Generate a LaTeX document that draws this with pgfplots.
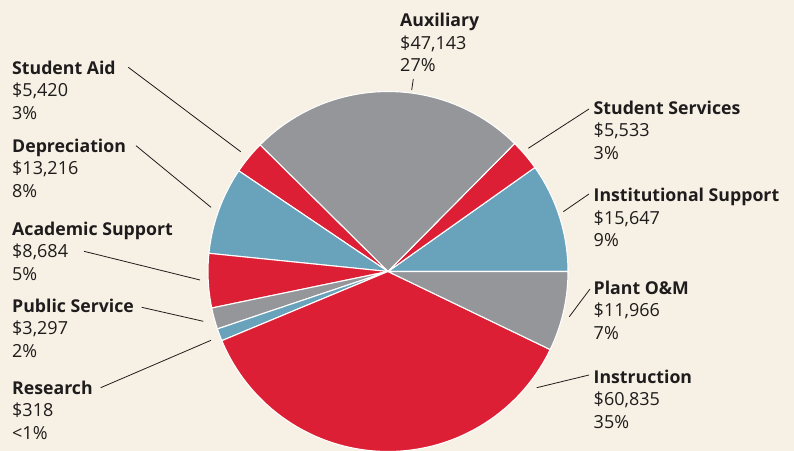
\documentclass[border=0pt]{standalone}
\usepackage{fontspec}
\setmainfont{Open Sans}
\usepackage{pgfplots}
\pgfplotsset{compat=1.18}
\definecolor{bgc}{RGB}{247,240,228}
\definecolor{pred}{RGB}{220,31,52}
\definecolor{pgray}{RGB}{149,150,154}
\definecolor{pblue}{RGB}{105,162,187}
\definecolor{ink}{RGB}{30,28,28}

\tikzset{
  slice/.style={draw=white, line width=1.1pt},
  leader/.style={ink, line width=0.8pt},
  lbl/.style={anchor=base west, inner sep=0pt, text=ink,
    font=\fontsize{18bp}{21bp}\selectfont}}

% one label block: x, first baseline (pixels from top), name, amount, share
\newcommand\lab[5]{%
  \node[lbl, font=\fontsize{17.7bp}{21bp}\selectfont\bfseries] at (axis cs:#1,#2) {#3};
  \node[lbl] at (axis cs:#1,#2+22.6) {#4};
  \node[lbl] at (axis cs:#1,#2+45.2) {#5};}

\begin{document}
\begin{tikzpicture}
\path[use as bounding box] (0bp,0bp) rectangle (794bp,451bp);
\fill[bgc] (0bp,0bp) rectangle (794bp,451bp);
\begin{axis}[at={(0bp,0bp)}, anchor=south west, scale only axis,
  width=794bp, height=451bp, xmin=0, xmax=794, ymin=0, ymax=451,
  y dir=reverse, hide axis, clip=true, samples=80]

% slices, angles (deg, counter-clockwise from east) as drawn
\addplot[slice, fill=pblue, domain=0:35.3]      ({388+180*cos(x)},{271.5-180*sin(x)}) -- (axis cs:388,271.5) -- cycle; % Institutional Support
\addplot[slice, fill=pred,  domain=35.3:45.3]   ({388+180*cos(x)},{271.5-180*sin(x)}) -- (axis cs:388,271.5) -- cycle; % Student Services
\addplot[slice, fill=pgray, domain=45.3:135.3]  ({388+180*cos(x)},{271.5-180*sin(x)}) -- (axis cs:388,271.5) -- cycle; % Auxiliary
\addplot[slice, fill=pred,  domain=135.3:146.0] ({388+180*cos(x)},{271.5-180*sin(x)}) -- (axis cs:388,271.5) -- cycle; % Student Aid
\addplot[slice, fill=pblue, domain=146.0:174.2] ({388+180*cos(x)},{271.5-180*sin(x)}) -- (axis cs:388,271.5) -- cycle; % Depreciation
\addplot[slice, fill=pred,  domain=174.2:191.7] ({388+180*cos(x)},{271.5-180*sin(x)}) -- (axis cs:388,271.5) -- cycle; % Academic Support
\addplot[slice, fill=pgray, domain=191.7:198.6] ({388+180*cos(x)},{271.5-180*sin(x)}) -- (axis cs:388,271.5) -- cycle; % Public Service
\addplot[slice, fill=pblue, domain=198.6:202.6] ({388+180*cos(x)},{271.5-180*sin(x)}) -- (axis cs:388,271.5) -- cycle; % Research
\addplot[slice, fill=pred,  domain=202.6:334.3] ({388+180*cos(x)},{271.5-180*sin(x)}) -- (axis cs:388,271.5) -- cycle; % Instruction
\addplot[slice, fill=pgray, domain=334.3:360]   ({388+180*cos(x)},{271.5-180*sin(x)}) -- (axis cs:388,271.5) -- cycle; % Plant O&M

% leader lines
\addplot[leader] coordinates {(413.3,79) (411.7,90)};
\addplot[leader] coordinates {(128.3,67.3) (240.7,151.7)};
\addplot[leader] coordinates {(136,145.7) (211,207.3)};
\addplot[leader] coordinates {(84,251.3) (200,280)};
\addplot[leader] coordinates {(141.7,307.3) (203.3,321.3)};
\addplot[leader] coordinates {(100.7,387.7) (211,340.3)};
\addplot[leader] coordinates {(589,109) (528.3,148.3)};
\addplot[leader] coordinates {(589,194) (563.3,211.7)};
\addplot[leader] coordinates {(590,289) (569.3,316.7)};
\addplot[leader] coordinates {(589,375) (536.7,387.7)};

% labels
\lab{400}{26.7}{Auxiliary}{\$47,143}{27\%}
\lab{12}{74.3}{Student Aid}{\$5,420}{3\%}
\lab{12}{152}{Depreciation}{\$13,216}{8\%}
\lab{12}{235}{Academic Support}{\$8,684}{5\%}
\lab{12}{312}{Public Service}{\$3,297}{2\%}
\lab{12}{394.3}{Research}{\$318}{<1\%}
\lab{593.5}{114}{Student Services}{\$5,533}{3\%}
\lab{593.5}{201.7}{Institutional Support}{\$15,647}{9\%}
\lab{593.5}{294.3}{Plant O\&M}{\$11,966}{7\%}
\lab{593.5}{383.3}{Instruction}{\$60,835}{35\%}
\end{axis}
\end{tikzpicture}
\end{document}
